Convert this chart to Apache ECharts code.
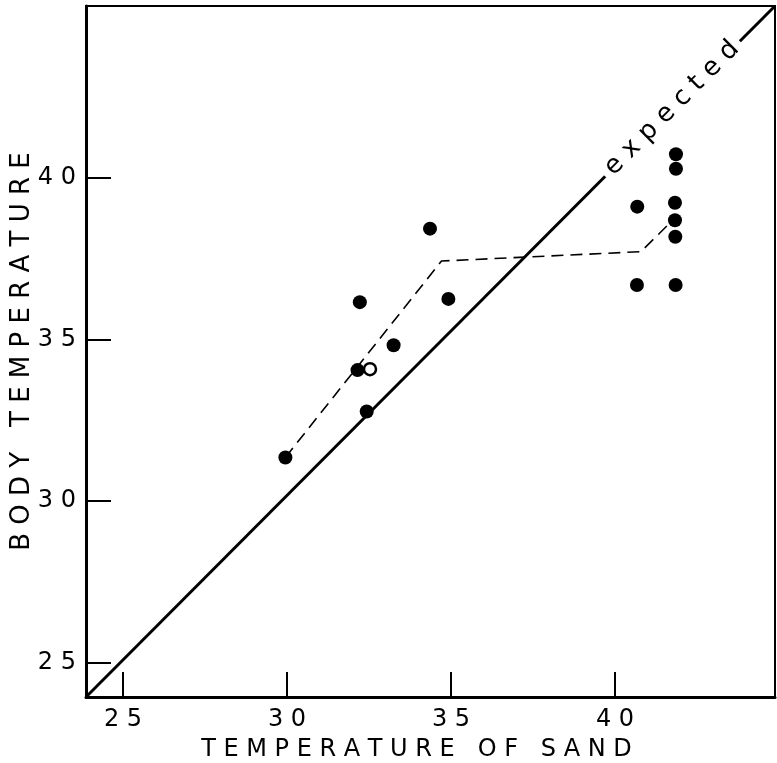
<!DOCTYPE html>
<html>
<head>
<meta charset="utf-8">
<script src="https://cdn.jsdelivr.net/npm/echarts@6/dist/echarts.min.js"></script>
<style>
	html, body { margin: 0; padding: 0; background: #fff; }
	#chart { width: 777px; height: 763px; }
</style>
</head>
<body>
<div id="chart"></div>
<script>
// tick values on both axes
const xTicks = [25, 30, 35, 40];
const yTicks = [25, 30, 35, 40];

// filled dots: [sand temperature, body temperature]
const filledPoints = [
	[29.95, 31.35],
	[32.15, 34.05],
	[32.43, 32.77],
	[32.22, 36.15],
	[33.25, 34.82],
	[34.36, 38.42],
	[34.92, 36.25],
	[40.68, 39.1],
	[40.67, 36.68],
	[41.86, 40.72],
	[41.86, 40.27],
	[41.83, 39.22],
	[41.83, 38.68],
	[41.84, 38.17],
	[41.85, 36.68]
];
// open circle
const openPoints = [
	[32.53, 34.08]
];
// dashed line of means
const meanLine = [
	[29.95, 31.35],
	[34.71, 37.42],
	[40.79, 37.71],
	[41.63, 38.55]
];
// expected line, corner to corner as drawn
const expectedLine = [
	[23.87, 23.95],
	[44.88, 45.3]
];
const expectedLabelAt = [[41.74, 42.14]];

const chart = echarts.init(document.getElementById('chart'));
const font = 'DejaVu Sans';
const spaced = v => String(v).split('').join(' ');

const option = {
	animation: false,
	backgroundColor: '#fff',
	grid: {
		left: 86,
		right: 2,
		top: 6,
		bottom: 66,
		outerBoundsMode: 'none',
		containLabel: false,
		show: true,
		borderColor: '#000',
		borderWidth: 2
	},
	xAxis: {
		type: 'value',
		min: 23.87,
		max: 44.88,
		splitLine: { show: false },
		axisLine: { lineStyle: { color: '#000', width: 3 } },
		axisTick: {
			inside: true,
			length: 25,
			customValues: xTicks,
			lineStyle: { color: '#000', width: 2 }
		},
		axisLabel: {
			customValues: xTicks,
			formatter: spaced,
			margin: 11,
			color: '#000',
			fontFamily: font,
			fontSize: 24
		},
		name: 'T E M P E R A T U R E   O F   S A N D',
		nameLocation: 'middle',
		nameGap: 41,
		nameMoveOverlap: false,
		nameTextStyle: { color: '#000', fontFamily: font, fontSize: 24, padding: [0, 28, 0, 0] }
	},
	yAxis: {
		type: 'value',
		min: 23.95,
		max: 45.3,
		splitLine: { show: false },
		axisLine: { lineStyle: { color: '#000', width: 3 } },
		axisTick: {
			inside: true,
			length: 25,
			customValues: yTicks,
			lineStyle: { color: '#000', width: 2 }
		},
		axisLabel: {
			customValues: yTicks,
			formatter: spaced,
			margin: 10,
			color: '#000',
			fontFamily: font,
			fontSize: 24
		},
		name: 'B O D Y   T E M P E R A T U R E',
		nameLocation: 'middle',
		nameGap: 51,
		nameMoveOverlap: false,
		nameRotate: 90,
		nameTextStyle: { color: '#000', fontFamily: font, fontSize: 26 }
	},
	series: [
		{
			name: 'expected',
			type: 'line',
			data: expectedLine,
			symbol: 'none',
			z: 2,
			lineStyle: { color: '#000', width: 3 }
		},
		{
			name: 'means',
			type: 'line',
			data: meanLine,
			symbol: 'none',
			z: 2,
			lineStyle: { color: '#000', width: 1.6, type: [12, 7] }
		},
		{
			name: 'filled',
			type: 'scatter',
			data: filledPoints,
			symbol: 'circle',
			symbolSize: 14,
			z: 3,
			itemStyle: { color: '#000', opacity: 1 }
		},
		{
			name: 'open',
			type: 'scatter',
			data: openPoints,
			symbol: 'circle',
			symbolSize: 12,
			z: 4,
			itemStyle: { color: '#fff', borderColor: '#000', borderWidth: 2.5, opacity: 1 }
		},
		{
			name: 'expectedLabel',
			type: 'scatter',
			data: expectedLabelAt,
			symbolSize: 0,
			silent: true,
			z: 5,
			itemStyle: { opacity: 1 },
			label: {
				show: true,
				position: 'inside',
				rotate: 45,
				formatter: 'e x p e c t e d',
				color: '#000',
				fontFamily: font,
				fontSize: 26,
				backgroundColor: '#fff',
				padding: [0, 6]
			}
		}
	]
};

chart.setOption(option);
</script>
</body>
</html>
